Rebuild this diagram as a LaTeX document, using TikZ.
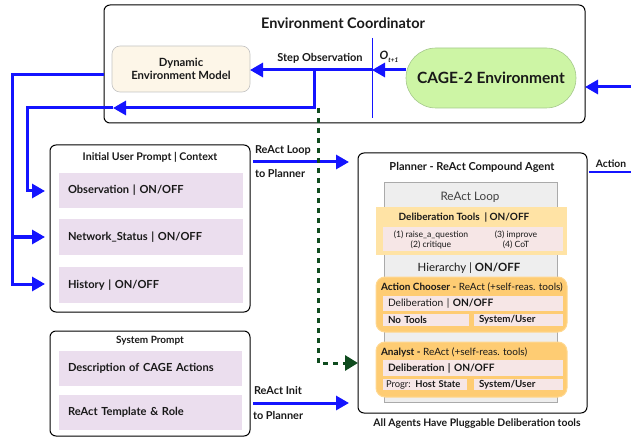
\documentclass[tikz,border=0pt]{standalone}
\usepackage{fontspec}
\setmainfont{Lato}
\usetikzlibrary{arrows.meta,shapes.misc}
\definecolor{cblue}{RGB}{20,20,255}
\definecolor{cgreen}{RGB}{15,75,30}
\definecolor{cream}{RGB}{253,246,232}
\definecolor{lime}{RGB}{205,245,165}
\definecolor{limeb}{RGB}{165,200,140}
\definecolor{lav}{RGB}{235,222,238}
\definecolor{lgray}{RGB}{238,238,238}
\definecolor{mgray}{RGB}{170,170,170}
\definecolor{lorange}{RGB}{255,227,165}
\definecolor{orange}{RGB}{254,204,115}
\definecolor{orangeb}{RGB}{255,216,145}
\definecolor{pinkb}{RGB}{246,230,230}
\definecolor{txt}{RGB}{25,25,25}
\begin{document}
\begin{tikzpicture}[x=1pt,y=-1pt,
  every node/.style={inner sep=0pt,outer sep=0pt,text=txt},
  frame/.style={draw=black,line width=1pt,rounded corners=6pt,anchor=north west},
  pbox/.style={fill=lav,anchor=north west,inner xsep=9pt,align=left,font=\fontsize{11.1}{13}\selectfont\bfseries},
  ibox/.style={fill=pinkb,anchor=north west,inner xsep=5pt,align=left,font=\fontsize{10}{11}\selectfont},
  obox/.style={fill=orange,draw=orangeb,line width=1pt,rounded corners=9pt,anchor=north west},
  thick blue/.style={draw=cblue,line width=3pt},
  tip/.style={-{Triangle[length=13pt,width=14pt]}},
  lbl/.style={font=\fontsize{10.9}{12}\selectfont\bfseries}
]
\useasboundingbox (0,0) rectangle (631,438);

% Environment coordinator
\node[frame,minimum width=481pt,minimum height=118pt] (envc) at (104,5) {};
\node[font=\fontsize{14.5}{16}\selectfont\bfseries] (envct) at (343,23) {Environment Coordinator};
\node[fill=cream,draw=mgray!70,line width=0.6pt,rounded corners=8pt,anchor=north west,
  minimum width=138pt,minimum height=46pt,align=center,
  font=\fontsize{11.3}{13.5}\selectfont\bfseries] (dem) at (112,46) {Dynamic\\Environment Model};
\node[rounded rectangle,fill=lime,draw=limeb,line width=0.6pt,minimum width=170pt,minimum height=60pt,
  font=\fontsize{15.5}{17}\selectfont\bfseries] (cage) at (491,78) {CAGE-2 Environment};
\coordinate (vtop) at (372,38);
\coordinate (vbot) at (372,118);
\draw[cblue,line width=0.8pt] (vtop) -- (vbot);
\node[font=\fontsize{11.5}{13}\selectfont\bfseries\itshape] (ot) at (389,57) {O\raisebox{-0.4ex}{\fontsize{6.5}{7}\selectfont t+1}};
\node[font=\fontsize{11}{12}\selectfont\bfseries] (stepobs) at (320,58) {Step Observation};

\coordinate (cagein) at (406,70);
\coordinate (vmid) at (372,70);
\coordinate (br) at (314,70);
\coordinate (brd) at (314,108);
\coordinate (lowtip) at (113,108);
\coordinate (lowl) at (27,108);
\coordinate (upstart) at (104,75);
\coordinate (upl) at (12,75);

\draw[thick blue,tip] (cagein) -- (vmid);
\draw[thick blue,tip] (vmid) -- (dem.east |- vmid);
\draw[thick blue,tip] (br) -- (brd) -- (lowtip);

% Right side
\coordinate (rin) at (631,87);
\draw[thick blue,tip] (rin) -- (envc.east |- rin);

% Initial user prompt
\node[frame,minimum width=200pt,minimum height=167pt] (iup) at (50,145) {};
\node[font=\fontsize{10.6}{12}\selectfont\bfseries] (iupt) at (150,157) {Initial User Prompt | Context};
\node[pbox,minimum height=35pt,text width=166pt] (obs) at (59,173) {Observation | ON/OFF};
\node[pbox,minimum height=36pt,text width=166pt] (net) at (59,219) {Network\_Status | ON/OFF};
\node[pbox,minimum height=36pt,text width=166pt] (hist) at (59,267) {History | ON/OFF};

\coordinate (obsl) at (27,191);
\coordinate (obst) at (45,191);
\coordinate (netl) at (12,237);
\coordinate (nett) at (45,237);
\coordinate (histl) at (12,284);
\coordinate (histt) at (45,284);
\draw[thick blue,tip] (lowtip) -- (lowl) -- (obsl) -- (obst);
\draw[thick blue,tip] (upstart) -- (upl) -- (histl) -- (histt);
\draw[thick blue,tip] (netl) -- (nett);

% System prompt
\node[frame,minimum width=200pt,minimum height=105pt] (sys) at (50,331) {};
\node[font=\fontsize{10}{12}\selectfont\bfseries] (syst) at (150,341) {System Prompt};
\node[pbox,minimum height=35pt,text width=165pt] (desc) at (59,351) {Description of CAGE Actions};
\node[pbox,minimum height=35pt,text width=165pt] (tmpl) at (59,395) {ReAct Template \& Role};

% Planner
\node[frame,minimum width=229pt,minimum height=260pt] (plan) at (358,153) {};
\node[font=\fontsize{11}{13}\selectfont\bfseries] (plant) at (472,167) {Planner - ReAct Compound Agent};
\node[fill=lgray,draw=mgray,line width=0.6pt,anchor=north west,minimum width=173pt,minimum height=220pt] (loop) at (384,182) {};
\node[font=\fontsize{11.7}{13}\selectfont,text=black!75] (loopt) at (470,197) {ReAct Loop};
\node[fill=lorange,anchor=north west,minimum width=191pt,minimum height=48pt] (delib) at (376,207) {};
\node[font=\fontsize{10}{12}\selectfont\bfseries] (delibt) at (464,217) {Deliberation Tools\ \ | ON/OFF};
\node[fill=pinkb,anchor=north west,minimum width=180pt,minimum height=24pt] (tools) at (383,227) {};
\node[align=center,font=\fontsize{8.6}{10}\selectfont] (toolsa) at (431,240) {(1) raise\_a\_question\\(2) critique};
\node[align=center,font=\fontsize{8.6}{10}\selectfont] (toolsb) at (516,240) {(3) improve\\(4) CoT};
\node[font=\fontsize{11.4}{13}\selectfont] (hier) at (469,268) {Hierarchy | \textbf{ON/OFF}};

% Action chooser
\node[obox,minimum width=191pt,minimum height=55pt] (ac) at (376,277) {};
\node[anchor=west,font=\fontsize{10}{11}\selectfont] (act) at (381,287) {\textbf{Action Chooser -} ReAct (+self-reas. tools)};
\node[ibox,minimum height=15pt,text width=170pt,font=\fontsize{10.2}{11}\selectfont] (acd) at (383,296) {Deliberation | \textbf{ON/OFF}};
\node[ibox,minimum height=12pt,text width=76pt,font=\fontsize{9.8}{11}\selectfont\bfseries] (acn) at (383,314) {No Tools};
\node[ibox,minimum height=12pt,text width=79pt,font=\fontsize{9.8}{11}\selectfont\bfseries] (acs) at (474,314) {System/User};

% Analyst
\node[obox,minimum width=191pt,minimum height=55pt] (an) at (376,342) {};
\node[anchor=west,font=\fontsize{10}{11}\selectfont] (ant) at (381,352) {\textbf{Analyst -} ReAct (+self-reas. tools)};
\node[ibox,minimum height=16pt,text width=170pt,font=\fontsize{10.2}{11}\selectfont\bfseries] (and) at (383,360) {Deliberation | ON/OFF};
\node[ibox,minimum height=11pt,inner xsep=3pt,text width=78pt,font=\fontsize{9.4}{11}\selectfont] (anp) at (383,379) {Progr: \textbf{Host State}};
\node[ibox,minimum height=11pt,text width=79pt,font=\fontsize{9.8}{11}\selectfont\bfseries] (ans) at (474,379) {System/User};

\node[font=\fontsize{10.4}{12}\selectfont\bfseries] (allag) at (477,424) {All Agents Have Pluggable Deliberation tools};

% Connectors to planner
\node[lbl,anchor=west] (rl1) at (255,150) {ReAct Loop};
\node[lbl,anchor=west] (rl2) at (255,173) {to Planner};
\node[lbl,anchor=west] (ri1) at (254,390) {ReAct Init};
\node[lbl,anchor=west] (ri2) at (253,415) {to Planner};
\coordinate (rls) at (253,162);
\coordinate (rle) at (349,162);
\coordinate (ris) at (253,403);
\coordinate (rie) at (349,403);
\draw[thick blue,tip] (rls) -- (rle);
\draw[thick blue,tip] (ris) -- (rie);

% Green dashed
\coordinate (gs) at (318,108);
\coordinate (gb) at (318,363);
\draw[cgreen,line width=3pt,dash pattern=on 5pt off 5pt,-{Triangle[length=13pt,width=15pt]}] (gs) -- (gb) -- (plan.west |- gb);

% Action
\node[font=\fontsize{10.3}{12}\selectfont\bfseries] (actn) at (611,164) {Action};
\coordinate (acts) at (589,172);
\coordinate (acte) at (631,172);
\draw[cblue,line width=2.5pt] (acts) -- (acte);
\end{tikzpicture}
\end{document}
